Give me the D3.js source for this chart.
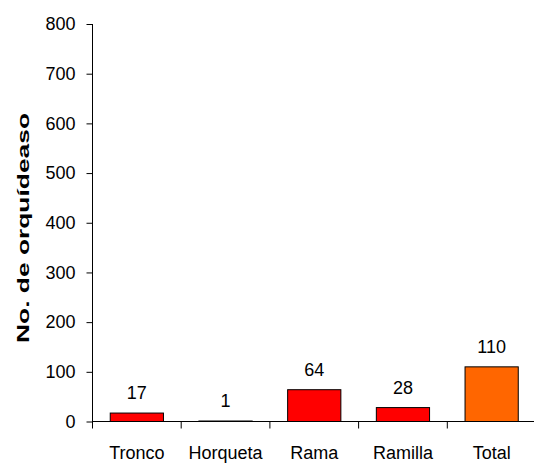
<!DOCTYPE html>
<html><head><meta charset="utf-8">
<script src="https://cdn.jsdelivr.net/npm/d3@7"></script>
<style>body{margin:0;background:#fff}svg{display:block}text{font-family:"Liberation Sans",Arial,sans-serif}</style>
</head><body><svg id="c" width="534" height="466"></svg>
<script>
const categories = ["Tronco","Horqueta","Rama","Ramilla","Total"];
const values = [17,1,64,28,110];
const colors = ["#FF0000","#FF0000","#FF0000","#FF0000","#FF6600"];
const yTicks = [0,100,200,300,400,500,600,700,800];
const yTitle = "No. de orquídeaso";

const svg = d3.select("#c");
const x0 = 92.5, x1 = 536, yTop = 24, yBot = 421.5;
const x = d3.scaleBand().domain(categories).range([x0,x1]).paddingInner(0.4).paddingOuter(0.2);
const y = d3.scaleLinear().domain([0,800]).range([yBot,yTop]);

// bars
svg.selectAll("rect.bar").data(values).enter().append("rect")
  .attr("x",(d,i)=>x(categories[i]))
  .attr("y",d=>y(d))
  .attr("width",x.bandwidth())
  .attr("height",d=>yBot-y(d))
  .attr("fill",(d,i)=>colors[i])
  .attr("stroke","#000").attr("stroke-width",1);

// value labels
svg.selectAll("text.val").data(values).enter().append("text")
  .attr("x",(d,i)=>x(categories[i])+x.bandwidth()/2)
  .attr("y",d=>y(d)-14)
  .attr("text-anchor","middle").attr("font-size",18).attr("fill","#000")
  .text(d=>d);

// y axis
const yAxis = d3.axisLeft(y).tickValues(yTicks).tickSize(6).tickPadding(11).tickFormat(d3.format("d"));
const gy = svg.append("g").attr("transform",`translate(${x0},0)`).call(yAxis);
gy.select(".domain").remove();
gy.selectAll("text").attr("font-size",18).attr("font-family","Liberation Sans, Arial, sans-serif").attr("fill","#000");
gy.selectAll("line").attr("stroke","#000");
svg.append("line").attr("x1",x0).attr("x2",x0).attr("y1",yTop).attr("y2",yBot+7).attr("stroke","#000");

// x axis
svg.append("line").attr("x1",x0).attr("x2",534).attr("y1",yBot).attr("y2",yBot).attr("stroke","#000");
const step = x.step();
categories.slice(1).forEach((c,i)=>{
  const bx = x0 + step*(i+1);
  svg.append("line").attr("x1",bx).attr("x2",bx).attr("y1",yBot).attr("y2",yBot+7).attr("stroke","#000");
});
svg.selectAll("text.cat").data(categories).enter().append("text")
  .attr("x",d=>x(d)+x.bandwidth()/2)
  .attr("y",459)
  .attr("text-anchor","middle").attr("font-size",18).attr("fill","#000")
  .text(d=>d);

// y title
svg.append("text").attr("transform","translate(28.5,228) rotate(-90)")
  .attr("text-anchor","middle").attr("font-size",17).attr("font-weight","bold").attr("fill","#000")
  .attr("textLength",230).attr("lengthAdjust","spacingAndGlyphs")
  .text(yTitle);
</script></body></html>
